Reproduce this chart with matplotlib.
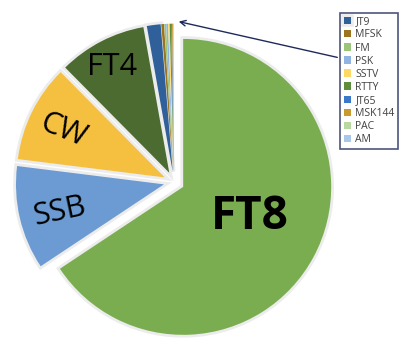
import matplotlib.pyplot as plt
import matplotlib.patheffects as pe

# share of contacts per mode, clockwise from 12 o'clock
modes = ["FT8", "SSB", "CW", "FT4", "JT9", "MFSK", "FM", "PSK", "SSTV",
         "RTTY", "JT65", "MSK144", "PAC", "AM"]
shares = [65.6, 11.3, 10.6, 9.6, 1.5, 0.3, 0.2, 0.2, 0.15,
          0.15, 0.1, 0.1, 0.05, 0.05]
colors = ["#7aad50", "#6b9bd2", "#f5c040", "#4c6b31", "#30609a", "#9a7420",
          "#9cc57c", "#8fb4e2", "#ffd966", "#5e8e3b", "#3c78c8", "#c99a2c",
          "#b9d9a2", "#a9c7ea"]

# modes that get a big label on the slice
big_labels = {
    "FT8": dict(xy=(0.51, -0.23), size=33, weight="bold", rot=0),
    "SSB": dict(xy=(-0.77, -0.20), size=22, weight="normal", rot=12),
    "CW": dict(xy=(-0.75, 0.35), size=22, weight="normal", rot=-22),
    "FT4": dict(xy=(-0.42, 0.78), size=22, weight="normal", rot=0),
}
legend_modes = modes[4:]

fig = plt.figure(figsize=(4.19, 3.44), dpi=100)
ax = fig.add_axes([0, 0, 1, 1])

wedges, _ = ax.pie(shares, colors=colors, startangle=90, counterclock=False,
                   explode=[0.07] * len(shares), radius=1.0)
# soft grey rim on the big slices only, so the thin ones stay visible
for w in wedges[:5]:
    w.set_path_effects([pe.Stroke(linewidth=4, foreground="#ececec"),
                        pe.Normal()])
for w in wedges[5:]:
    w.set_zorder(3)

for name, opt in big_labels.items():
    ax.text(*opt["xy"], name, fontsize=opt["size"], fontweight=opt["weight"],
            rotation=opt["rot"], ha="center", va="center",
            family="Open Sans", color="black", zorder=4)

ax.set_xlim(-1.176, 1.655)
ax.set_ylim(-1.095, 1.23)
ax.set_aspect("auto")
ax.axis("off")

leg = ax.legend([wedges[modes.index(m)] for m in legend_modes], legend_modes,
                loc="upper left", bbox_to_anchor=(0.812, 0.963),
                frameon=True, fancybox=False,
                handlelength=0.7, handleheight=0.7, handletextpad=0.4,
                labelspacing=0.2, borderpad=0.35, borderaxespad=0,
                prop={"family": "Open Sans", "size": 7.5})
leg.get_frame().set_edgecolor("#1f2a5c")
leg.get_frame().set_linewidth(1.2)
for t in leg.get_texts():
    t.set_color("#404040")

# arrow from the legend to the thin slices at the top
ax.annotate("", xy=(176 / 419, 1 - 21 / 344), xycoords="axes fraction",
            xytext=(340 / 419, 1 - 58 / 344), textcoords="axes fraction",
            arrowprops=dict(arrowstyle="->", color="#1f2a5c", lw=1.0))

fig.savefig("out.png", dpi=100)
